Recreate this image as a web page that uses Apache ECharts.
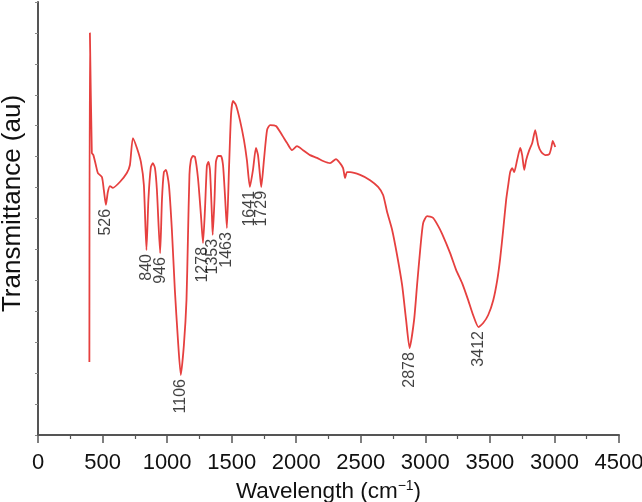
<!DOCTYPE html>
<html>
<head>
<meta charset="utf-8">
<title>FTIR spectrum</title>
<script src="https://cdn.jsdelivr.net/npm/echarts@6/dist/echarts.min.js"></script>
<style>
  html, body { margin: 0; padding: 0; background: #fff; }
  #myChart { width: 642px; height: 502px; }
</style>
</head>
<body>
<div id="myChart"></div>
<script>
// spectrum (wavenumber in cm-1, transmittance in arbitrary units)
let wavenumbers = [
  398, 402, 417, 429, 448, 464, 495, 510, 526, 541, 557, 580, 634, 688, 712, 735,
  766, 797, 820, 840, 855, 874, 890, 906, 921, 946, 960, 975, 991, 1014, 1037, 1060,
  1084, 1106, 1130, 1150, 1161, 1173, 1184, 1200, 1216, 1239, 1262, 1278, 1293, 1308,
  1320, 1332, 1347, 1353, 1367, 1378, 1394, 1417, 1433, 1448, 1463, 1479, 1495, 1510,
  1533, 1564, 1595, 1618, 1641, 1665, 1688, 1704, 1719, 1729, 1750, 1774, 1797, 1843,
  1890, 1929, 1967, 2006, 2053, 2107, 2161, 2208, 2262, 2308, 2339, 2363, 2378, 2393,
  2417, 2495, 2572, 2634, 2673, 2704, 2743, 2781, 2820, 2851, 2878, 2913, 2936, 2960,
  2983, 3014, 3060, 3099, 3130, 3192, 3239, 3285, 3332, 3370, 3412, 3448, 3487, 3526,
  3557, 3580, 3603, 3626, 3642, 3657, 3673, 3688, 3711, 3735, 3750, 3766, 3781, 3805,
  3828, 3851, 3874, 3898, 3929, 3960, 3975, 3987, 4006
];
let transmittance = [
  2.36, 13.0, 9.12, 9.05, 8.73, 8.47, 8.34, 7.92, 7.44, 7.86, 8.05, 7.99, 8.18, 8.47, 8.73, 9.60,
  9.28, 8.83, 8.08, 5.98, 7.60, 8.66, 8.79, 8.63, 7.92, 5.88, 7.60, 8.50, 8.57, 8.08, 6.63, 4.69,
  3.07, 1.94, 2.91, 4.36, 6.30, 8.41, 8.89, 9.02, 8.99, 8.31, 7.11, 6.21, 7.27, 8.70,
  8.83, 8.57, 7.11, 6.47, 7.60, 8.83, 9.02, 9.02, 8.73, 7.76, 6.69, 8.57, 10.35, 10.80,
  10.67, 10.18, 9.54, 8.89, 8.02, 8.57, 9.28, 9.05, 8.41, 8.02, 8.89, 9.86, 10.02, 9.99,
  9.70, 9.44, 9.21, 9.34, 9.21, 9.05, 8.96, 8.86, 8.79, 8.92, 8.79, 8.63, 8.31, 8.50,
  8.50, 8.41, 8.24, 8.02, 7.76, 7.21, 6.63, 5.82, 4.85, 3.72, 2.81, 3.72, 4.85, 5.98,
  6.85, 7.08, 7.02, 6.76, 6.50, 5.88, 5.33, 4.91, 4.36, 3.88, 3.49, 3.62, 3.88, 4.36,
  5.01, 5.72, 6.63, 7.60, 8.08, 8.50, 8.63, 8.50, 8.89, 9.28, 9.05, 8.57, 8.89, 9.21,
  9.44, 9.86, 9.38, 9.15, 9.05, 9.08, 9.28, 9.51, 9.31
];
// labelled absorption bands
let peaks = [526, 840, 946, 1106, 1278, 1353, 1463, 1641, 1729, 2878, 3412];
// x tick labels as printed (the 4000 tick reads "3000" in the original)
let xTickLabels = ["0", "500", "1000", "1500", "2000", "2500", "3000", "3500", "3000", "4500"];

let lineData = wavenumbers.map((w, i) => [w, transmittance[i]]);
let peakData = peaks.map(p => [p, transmittance[wavenumbers.indexOf(p)]]);

let font = "'Liberation Sans', Arial, sans-serif";
let axisColor = "#555555";
let textColor = "#111111";

let myChart = echarts.init(document.getElementById("myChart"), null, { renderer: "canvas" });

let option = {
  backgroundColor: "#ffffff",
  animation: false,
  grid: {
    left: 38,
    right: 23,
    top: 2,
    bottom: 67,
    outerBoundsMode: "none"
  },
  xAxis: {
    type: "value",
    min: 0,
    max: 4500,
    interval: 500,
    name: "{a|Wavelength (cm}{s|−1}{a|)}",
    nameLocation: "middle",
    nameGap: 44,
    nameTextStyle: {
      rich: {
        a: { fontFamily: font, fontSize: 22.5, color: textColor },
        s: { fontFamily: font, fontSize: 14, color: textColor, padding: [0, 0, 12, 0] }
      }
    },
    axisLine: { lineStyle: { color: axisColor, width: 2 } },
    axisTick: { length: 8, lineStyle: { color: axisColor, width: 1.5 } },
    minorTick: { show: true, splitNumber: 2, length: 4, lineStyle: { color: axisColor, width: 1.2 } },
    splitLine: { show: false },
    axisLabel: {
      margin: 17,
      fontFamily: font,
      fontSize: 22,
      color: textColor,
      formatter: function(v) {
        return xTickLabels[Math.round(v / 500)];
      }
    }
  },
  yAxis: {
    type: "value",
    min: 0,
    max: 14,
    interval: 1,
    name: "Transmittance (au)",
    nameLocation: "middle",
    nameGap: 12,
    nameTextStyle: { fontFamily: font, fontSize: 26, color: textColor, padding: [0, 0, 0, 30] },
    axisLine: { show: true, lineStyle: { color: axisColor, width: 2 } },
    axisTick: { show: true, length: 3, lineStyle: { color: "#888888", width: 1 } },
    axisLabel: { show: false },
    splitLine: { show: false }
  },
  series: [
    {
      type: "line",
      data: lineData,
      showSymbol: false,
      smooth: 0.2,
      lineStyle: { color: "#e6403f", width: 1.8 },
      z: 2
    },
    {
      // peak labels, rotated and hung under each band minimum
      type: "scatter",
      data: peakData,
      symbolSize: 0,
      silent: true,
      label: {
        show: true,
        position: "bottom",
        distance: 4,
        rotate: 90,
        align: "right",
        verticalAlign: "middle",
        fontFamily: font,
        fontSize: 16,
        color: textColor,
        formatter: function(p) {
          return p.value[0];
        }
      },
      z: 3
    }
  ]
};
myChart.setOption(option);
</script>
</body>
</html>
